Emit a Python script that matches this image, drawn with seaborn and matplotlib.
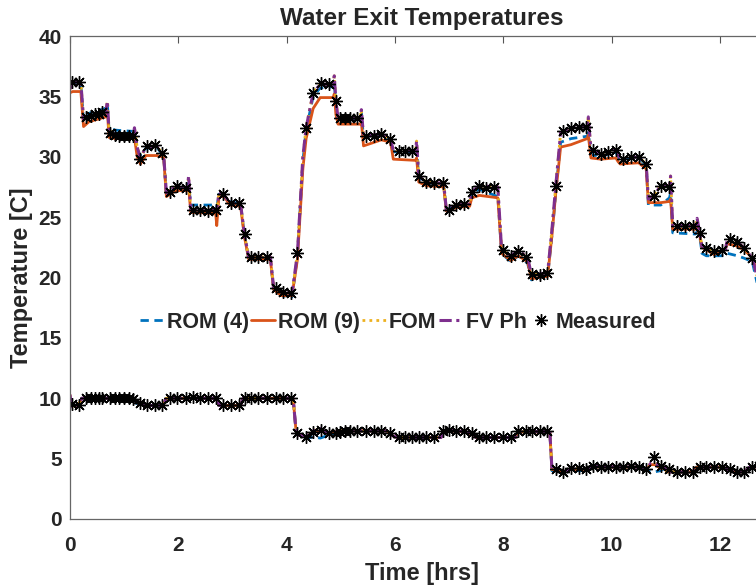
import matplotlib
matplotlib.use('Agg')
import matplotlib.pyplot as plt
import seaborn as sns
import pandas as pd

# measured sample times [hrs] and temperatures [C]
t_meas_top = [0.04, 0.17, 0.30, 0.38, 0.46, 0.53, 0.60, 0.73, 0.83, 0.91, 1.00, 1.09, 1.17,
              1.30, 1.43, 1.57, 1.70, 1.84, 1.98, 2.15, 2.28, 2.40, 2.55, 2.70, 2.83, 2.97,
              3.12, 3.23, 3.34, 3.48, 3.64, 3.80, 3.93, 4.08, 4.20, 4.36, 4.49, 4.64, 4.78,
              4.91, 4.99, 5.08, 5.17, 5.30, 5.47, 5.61, 5.75, 5.90, 6.07, 6.19, 6.31, 6.44,
              6.58, 6.73, 6.89, 7.00, 7.13, 7.28, 7.42, 7.56, 7.69, 7.83, 7.99, 8.14, 8.28,
              8.42, 8.54, 8.68, 8.81, 8.97, 9.11, 9.25, 9.39, 9.52, 9.65, 9.80, 9.94, 10.08,
              10.22, 10.36, 10.50, 10.64, 10.78, 10.91, 11.07, 11.21, 11.35, 11.50, 11.63,
              11.75, 11.89, 12.04, 12.18, 12.32, 12.45, 12.60]
temp_meas_top = [36.2, 36.2, 33.3, 33.4, 33.5, 33.55, 33.7, 32.0, 31.8, 31.75, 31.75, 31.7, 31.7,
                 29.8, 30.85, 30.95, 30.3, 27.1, 27.6, 27.45, 25.6, 25.55, 25.5, 25.55, 26.9, 26.2,
                 26.2, 23.6, 21.7, 21.7, 21.7, 19.1, 18.8, 18.7, 22.0, 32.4, 35.3, 36.1, 36.0,
                 34.6, 33.2, 33.2, 33.2, 33.2, 31.7, 31.75, 31.9, 31.5, 30.5, 30.5, 30.5, 28.4,
                 27.9, 27.8, 27.8, 25.6, 26.0, 26.1, 27.1, 27.6, 27.4, 27.5, 22.3, 21.8, 22.2,
                 21.7, 20.25, 20.2, 20.4, 27.6, 32.1, 32.4, 32.5, 32.5, 30.6, 30.2, 30.4, 30.6,
                 29.85, 30.0, 30.0, 29.4, 26.75, 27.6, 27.5, 24.3, 24.3, 24.3, 23.65,
                 22.45, 22.2, 22.3, 23.15, 22.95, 22.45, 21.6]

t_meas_bot = t_meas_top + [12.72]
temp_meas_bot = [9.5, 9.4, 10.0, 10.0, 10.0, 10.0, 10.0, 10.0, 10.0, 10.0, 10.0, 10.0, 9.95,
                 9.6, 9.4, 9.4, 9.4, 10.0, 10.0, 10.05, 10.1, 10.0, 10.0, 10.0, 9.4, 9.4,
                 9.4, 10.0, 10.0, 10.0, 10.0, 10.0, 10.0, 10.0, 7.1, 6.8, 7.2, 7.4, 7.1,
                 7.1, 7.2, 7.3, 7.3, 7.3, 7.3, 7.3, 7.3, 7.1, 6.75, 6.75, 6.75, 6.75,
                 6.75, 6.75, 7.25, 7.35, 7.25, 7.25, 7.1, 6.75, 6.75, 6.75, 6.75, 6.75, 7.25,
                 7.25, 7.25, 7.25, 7.25, 4.1, 3.9, 4.2, 4.2, 4.15, 4.35, 4.3, 4.3, 4.3,
                 4.3, 4.35, 4.3, 4.1, 5.1, 4.35, 4.1, 3.9, 3.9, 3.9, 4.3,
                 4.3, 4.3, 4.3, 4.1, 3.9, 3.9, 4.3, 4.35]

# model outputs, upper sensor
t_top = [0.00, 0.05, 0.20, 0.25, 0.35, 0.66, 0.69, 0.72, 0.85, 1.17, 1.19, 1.24, 1.30,
         1.40, 1.60, 1.70, 1.73, 1.78, 1.95, 2.17, 2.19, 2.23, 2.69, 2.71, 2.75, 2.85,
         2.95, 3.15, 3.22, 3.30, 3.70, 3.76, 3.90, 4.10, 4.20, 4.30, 4.36, 4.49, 4.62,
         4.86, 4.88, 4.91, 4.95, 5.36, 5.38, 5.42, 5.75, 5.92, 5.97, 6.38, 6.40, 6.44,
         6.58, 6.90, 6.95, 7.13, 7.38, 7.42, 7.56, 7.90, 7.97, 8.14, 8.28, 8.45, 8.52,
         8.82, 8.90, 8.97, 9.06, 9.25, 9.55, 9.57, 9.62, 9.80, 10.08, 10.12, 10.16,
         10.50, 10.64, 10.68, 10.78, 10.91, 11.07, 11.09, 11.13, 11.55, 11.58, 11.63,
         11.67, 11.75, 11.89, 12.10, 12.14, 12.32, 12.45, 12.60, 12.75]
fvph_top = [35.6, 36.2, 36.2, 33.1, 33.3, 33.7, 34.6, 32.2, 31.8, 31.7, 32.4, 30.8, 29.9,
            30.8, 30.9, 30.3, 30.1, 27.0, 27.5, 27.4, 28.4, 25.6, 25.6, 25.6, 27.0, 26.8,
            26.2, 26.1, 23.6, 21.7, 21.7, 19.2, 18.8, 18.7, 22.0, 30.0, 32.4, 35.3, 36.0,
            36.0, 36.7, 34.6, 33.2, 33.2, 33.9, 31.7, 31.9, 31.5, 30.5, 30.5, 31.3, 28.4,
            27.9, 27.8, 25.6, 26.0, 26.1, 27.1, 27.6, 27.5, 22.3, 21.8, 22.2, 21.7, 20.2,
            20.4, 24.0, 27.6, 32.0, 32.4, 32.5, 33.3, 30.6, 30.2, 30.6, 30.2, 29.8,
            30.0, 29.4, 26.5, 26.8, 27.6, 27.5, 28.4, 24.3, 24.3, 24.9, 23.65,
            22.6, 22.45, 22.2, 22.3, 23.15, 22.95, 22.45, 21.6, 19.0]
rom9_top = [35.3, 35.4, 35.4, 32.5, 32.9, 33.3, 33.8, 31.6, 31.5, 31.5, 31.6, 30.0, 29.4,
            30.1, 30.1, 30.0, 29.9, 26.7, 27.2, 27.2, 27.5, 25.4, 25.3, 24.3, 26.7, 26.7,
            26.0, 25.9, 23.4, 21.5, 21.5, 19.0, 18.5, 18.5, 21.5, 29.0, 31.5, 34.0, 34.9,
            34.9, 35.2, 33.5, 32.7, 32.7, 32.9, 30.9, 31.4, 31.2, 29.8, 29.7, 29.9, 27.9,
            27.6, 27.5, 25.5, 25.8, 25.9, 26.6, 26.8, 26.6, 22.0, 21.4, 21.8, 21.3, 19.9,
            20.1, 23.5, 27.0, 30.8, 31.0, 31.5, 31.8, 29.9, 29.8, 29.9, 29.6, 29.4,
            29.5, 29.0, 26.2, 26.2, 26.2, 26.3, 26.5, 24.0, 24.0, 24.1, 23.4,
            22.5, 22.3, 21.9, 22.3, 22.8, 22.6, 22.3, 21.6, 19.8]
rom4_top = [35.8, 36.1, 36.1, 33.0, 33.6, 34.0, 34.4, 32.3, 32.2, 32.1, 32.2, 30.6, 30.1,
            30.7, 30.8, 30.2, 30.0, 26.9, 27.4, 27.4, 27.8, 26.0, 26.0, 25.8, 26.9, 26.7,
            26.3, 26.1, 23.5, 21.6, 21.6, 19.0, 18.5, 18.4, 21.8, 29.6, 32.2, 35.0, 35.7,
            35.8, 36.2, 34.3, 33.1, 33.1, 33.6, 31.6, 31.9, 31.4, 30.4, 30.4, 30.8, 28.3,
            27.8, 27.7, 25.6, 26.0, 26.1, 27.0, 27.3, 26.7, 22.0, 21.3, 21.8, 21.2, 19.8,
            20.1, 23.5, 27.0, 31.2, 31.5, 31.7, 32.0, 30.2, 30.0, 30.4, 30.0, 29.8,
            29.9, 29.3, 26.0, 26.0, 26.0, 26.6, 27.0, 23.7, 23.6, 23.8, 23.4,
            22.0, 21.8, 21.8, 21.8, 22.0, 21.8, 21.6, 21.3, 18.3]

# model outputs, lower sensor
t_bot = [0.00, 0.03, 0.15, 0.22, 1.17, 1.22, 1.30, 1.37, 1.72, 1.78, 2.70, 2.76, 3.15,
         3.20, 4.12, 4.18, 4.36, 4.50, 4.62, 4.75, 4.90, 5.00, 5.85, 5.95, 6.05, 6.85,
         6.90, 7.00, 7.30, 7.42, 7.50, 8.22, 8.27, 8.86, 8.90, 9.11, 9.25, 9.52, 9.65,
         10.55, 10.64, 10.72, 10.80, 10.90, 10.98, 11.02, 11.50, 11.57, 12.05, 12.15,
         12.25, 12.45, 12.55, 12.75]
fvph_bot = [10.3, 9.3, 9.4, 10.0, 10.0, 9.7, 9.5, 9.4, 9.4, 10.0, 10.0, 9.4, 9.4,
            10.0, 10.0, 7.0, 6.8, 7.3, 7.5, 7.1, 7.2, 7.3, 7.3, 6.9, 6.75, 6.75,
            7.3, 7.35, 7.25, 7.0, 6.75, 6.75, 7.25, 7.25, 4.1, 3.9, 4.2, 4.15, 4.35,
            4.3, 4.1, 4.6, 4.6, 4.4, 4.3, 3.9, 3.9, 4.3, 4.3, 4.1,
            3.9, 3.9, 4.3, 4.35]
rom9_bot = [9.6, 9.4, 9.4, 10.0, 10.0, 9.7, 9.5, 9.4, 9.4, 10.0, 10.0, 9.4, 9.4,
            10.0, 10.0, 7.0, 6.8, 7.2, 7.3, 7.1, 7.2, 7.3, 7.3, 6.9, 6.75, 6.75,
            7.25, 7.3, 7.2, 7.0, 6.75, 6.75, 7.2, 7.2, 4.1, 3.9, 4.1, 4.1, 4.3,
            4.3, 4.1, 4.5, 4.5, 4.2, 4.2, 3.9, 3.9, 4.3, 4.3, 4.1,
            3.9, 3.9, 4.3, 4.3]
rom4_bot = [9.6, 9.4, 9.4, 10.0, 10.0, 9.6, 9.4, 9.4, 9.4, 10.0, 10.0, 9.4, 9.4,
            10.0, 10.0, 7.0, 6.7, 6.8, 6.7, 6.9, 7.1, 7.3, 7.3, 6.9, 6.75, 6.75,
            7.25, 7.3, 7.2, 7.0, 6.75, 6.75, 7.2, 7.2, 4.0, 3.9, 4.0, 4.0, 4.3,
            4.3, 4.0, 4.0, 3.9, 4.0, 4.2, 3.9, 3.9, 4.3, 4.3, 4.1,
            3.9, 3.9, 4.3, 4.3]

sns.set_style('white')
plt.rcParams['font.family'] = ['Liberation Sans', 'DejaVu Sans']
plt.rcParams['font.weight'] = 'bold'

fig = plt.figure(figsize=(7.56, 5.88), dpi=100)
# axes runs past the right edge of the picture, as in the reference
ax = fig.add_axes([70 / 756, 69 / 588, 704 / 756, 483 / 588])

blue, orange, yellow, purple = '#0072BD', '#D95319', '#EDB120', '#7E2F8E'
styles = [
    ('ROM (4)', rom4_top, rom4_bot, blue, (0, (3, 2)), 2.0),
    ('ROM (9)', rom9_top, rom9_bot, orange, '-', 2.0),
    ('FOM', fvph_top, fvph_bot, yellow, (0, (1, 1.5)), 2.0),
    ('FV Ph', fvph_top, fvph_bot, purple, (0, (4, 1.5, 1, 1.5)), 2.2),
]

for name, top, bot, col, ls, lw in styles:
    df_top = pd.DataFrame({'t': t_top, 'T': top})
    df_bot = pd.DataFrame({'t': t_bot, 'T': bot})
    sns.lineplot(data=df_top, x='t', y='T', ax=ax, color=col, linestyle=ls, lw=lw,
                 estimator=None, sort=False, label=name)
    sns.lineplot(data=df_bot, x='t', y='T', ax=ax, color=col, linestyle=ls, lw=lw,
                 estimator=None, sort=False)

meas_style = dict(color='k', linestyle='none', marker=(8, 2, 0), markersize=9,
                  markeredgecolor='k', markeredgewidth=1.0, estimator=None, sort=False)
sns.lineplot(x=t_meas_top, y=temp_meas_top, ax=ax, label='Measured', **meas_style)
sns.lineplot(x=t_meas_bot, y=temp_meas_bot, ax=ax, **meas_style)

ax.set_xlim(0, 13)
ax.set_ylim(0, 40)
ax.set_xticks(range(0, 13, 2))
ax.set_yticks(range(0, 41, 5))
ax.tick_params(direction='in', length=5, width=0.8, color='#555555',
               labelsize=15, labelcolor='#262626', top=True, right=True)
ax.tick_params(axis='x', pad=12)
ax.tick_params(axis='y', pad=6)
for lab in ax.get_xticklabels() + ax.get_yticklabels():
    lab.set_fontweight('bold')
for sp in ax.spines.values():
    sp.set_color('#666666')
    sp.set_linewidth(0.9)

ax.set_title('Water Exit Temperatures', fontsize=17.5, fontweight='bold', pad=8)
ax.set_xlabel('Time [hrs]', fontsize=17, fontweight='bold', color='#262626', labelpad=5)
ax.set_ylabel('Temperature [C]', fontsize=17, fontweight='bold', color='#262626', labelpad=4)

handles, labels = ax.get_legend_handles_labels()
ax.legend(handles, labels, ncol=5, frameon=False, loc='center',
          bbox_to_anchor=(398 / 756, 1 - 322 / 588), bbox_transform=fig.transFigure,
          prop={'size': 15.5, 'weight': 'bold'}, handlelength=1.1, handletextpad=0.15,
          columnspacing=0.1, borderpad=0.2)

fig.savefig('out.png', dpi=100)
